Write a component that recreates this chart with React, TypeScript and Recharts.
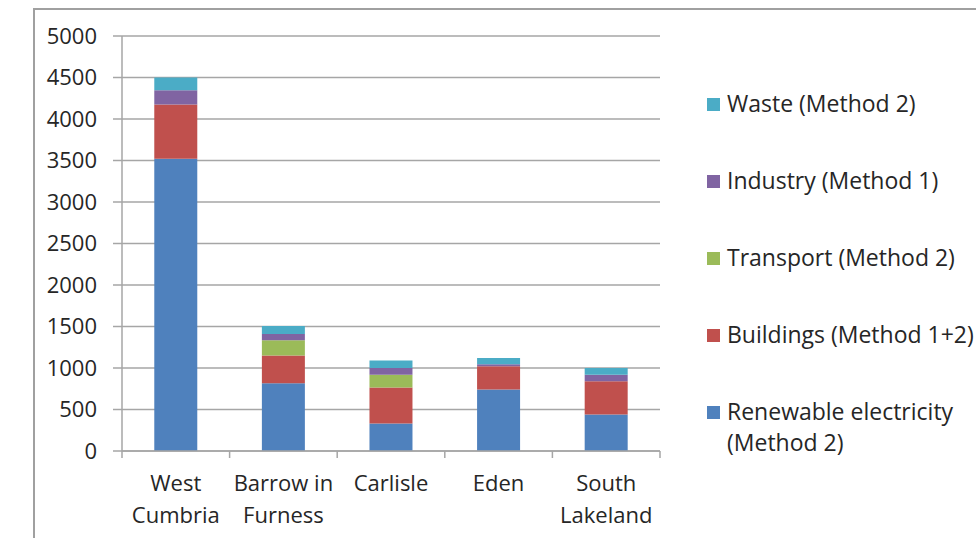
import { BarChart, Bar, XAxis, YAxis, CartesianGrid } from "recharts";

const categories = ["West Cumbria", "Barrow in Furness", "Carlisle", "Eden", "South Lakeland"];
const tickLines = [["West", "Cumbria"], ["Barrow in", "Furness"], ["Carlisle"], ["Eden"], ["South", "Lakeland"]];

const renewable = [3520, 815, 330, 740, 440];
const buildings = [655, 335, 435, 280, 400];
const transport = [0, 185, 155, 0, 0];
const industry = [170, 75, 80, 25, 80];
const waste = [155, 95, 90, 75, 80];

const yTicks = [0, 500, 1000, 1500, 2000, 2500, 3000, 3500, 4000, 4500, 5000];

const series = [
  { key: "renewable", name: "Renewable electricity (Method 2)", label: "Renewable electricity\n(Method 2)", color: "#4F81BD" },
  { key: "buildings", name: "Buildings (Method 1+2)", label: "Buildings (Method 1+2)", color: "#C0504D" },
  { key: "transport", name: "Transport (Method 2)", label: "Transport (Method 2)", color: "#9BBB59" },
  { key: "industry", name: "Industry (Method 1)", label: "Industry (Method 1)", color: "#8064A2" },
  { key: "waste", name: "Waste (Method 2)", label: "Waste (Method 2)", color: "#4BACC6" },
];

const data = categories.map((c, i) => ({
  name: c,
  renewable: renewable[i],
  buildings: buildings[i],
  transport: transport[i],
  industry: industry[i],
  waste: waste[i],
}));

const FONT = "'Open Sans', sans-serif";
const GRID = "#a6a6a6";
const TEXT = "#262626";
const X_TICK = 7;

// tick marks sit on the category boundaries, labels in the middle
function CategoryTick(props: any) {
  const { x, y, payload, index } = props;
  const lines = tickLines[payload.index ?? index] ?? [payload.value];
  const band = (Number(props.width) || 538) / categories.length;
  const axisY = y - X_TICK;
  const isLast = (payload.index ?? index) === categories.length - 1;
  return (
    <g>
      <line x1={x - band / 2} x2={x - band / 2} y1={axisY} y2={axisY + X_TICK} stroke={GRID} strokeWidth={1.5} />
      {isLast && (
        <line x1={x + band / 2} x2={x + band / 2} y1={axisY} y2={axisY + X_TICK} stroke={GRID} strokeWidth={1.5} />
      )}
      <text x={x} y={y + 33} textAnchor="middle" fill={TEXT} fontFamily={FONT} fontSize={22}>
        {lines.map((l, i) => (
          <tspan key={i} x={x} dy={i === 0 ? 0 : 32}>
            {l}
          </tspan>
        ))}
      </text>
    </g>
  );
}

function LegendBox() {
  const items = [...series].reverse();
  return (
    <div style={{ position: "absolute", left: 707, top: 88, fontFamily: FONT, fontSize: 23, color: TEXT }}>
      {items.map((s) => (
        <div key={s.key} style={{ display: "flex", alignItems: "flex-start", height: 77 }}>
          <div style={{ width: 13, height: 13, background: s.color, marginTop: 10, marginRight: 7 }} />
          <div style={{ whiteSpace: "pre", lineHeight: "31px" }}>{s.label}</div>
        </div>
      ))}
    </div>
  );
}

export default function App() {
  return (
    <div style={{ position: "absolute", left: 0, top: 0, width: 976, height: 538, overflow: "hidden", background: "#fff" }}>
      <div
        style={{
          position: "absolute",
          left: 33,
          top: 8,
          width: 976,
          height: 560,
          borderTop: "2px solid #a0a0a0",
          borderLeft: "2px solid #a0a0a0",
        }}
      />
      <div style={{ position: "absolute", left: 0, top: 0 }}>
        <BarChart
          width={976}
          height={538}
          data={data}
          margin={{ top: 36, right: 316, bottom: 0, left: 0 }}
          barCategoryGap="30%"
        >
          <CartesianGrid vertical={false} stroke={GRID} strokeWidth={1.5} />
          <XAxis
            dataKey="name"
            height={87}
            interval={0}
            tick={<CategoryTick />}
            tickLine={false}
            tickSize={X_TICK}
            tickMargin={0}
            axisLine={{ stroke: GRID, strokeWidth: 1.5 }}
          />
          <YAxis
            width={122}
            domain={[0, 5000]}
            ticks={yTicks}
            interval={0}
            tickSize={9}
            tickMargin={16}
            axisLine={{ stroke: GRID, strokeWidth: 1.5 }}
            tickLine={{ stroke: GRID, strokeWidth: 1.5 }}
            tick={{ fill: TEXT, fontFamily: FONT, fontSize: 22 }}
          />
          {series.map((s) => (
            <Bar key={s.key} dataKey={s.key} name={s.name} stackId="a" fill={s.color} isAnimationActive={false} />
          ))}
        </BarChart>
      </div>
      <LegendBox />
    </div>
  );
}
